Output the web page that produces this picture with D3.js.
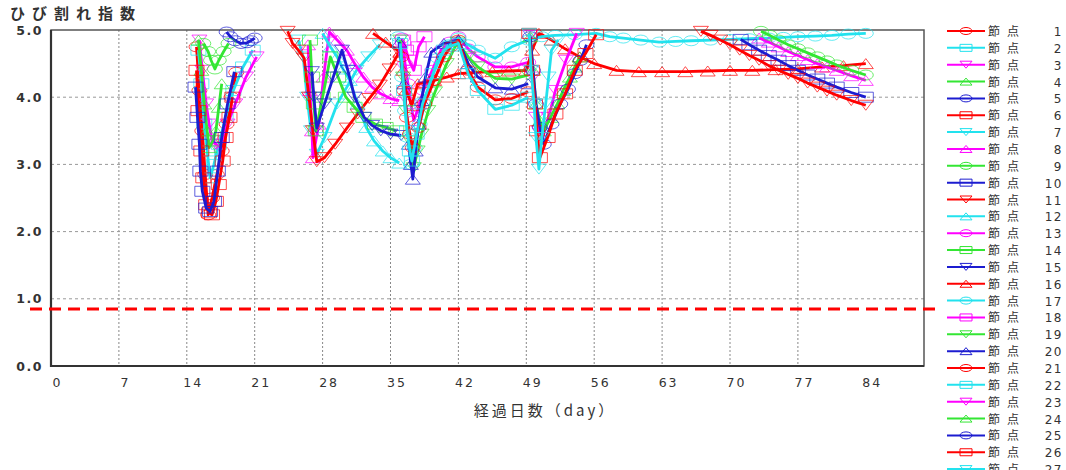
<!DOCTYPE html>
<html>
<head>
<meta charset="utf-8">
<script src="https://cdn.jsdelivr.net/npm/d3@7"></script>
<style>
  body { margin: 0; background: #fff; }
  text { font-family: "Noto Sans CJK JP", "DejaVu Sans", sans-serif; fill: #333; }
</style>
</head>
<body>
<svg id="chart" width="1066" height="470"></svg>
<script>
// ---- data: [day, crack index] per node ----
const xTicks = [0, 7, 14, 21, 28, 35, 42, 49, 56, 63, 70, 77, 84];
const xGrid = [7, 14, 21, 28, 35, 42, 49, 56, 63, 70, 77];
const yTicks = [0, 1, 2, 3, 4, 5];
const limitValue = 0.85;
const legendCount = 27;

const node01 = [[15.0,4.75],[15.3,4.1],[15.6,3.5],[15.9,2.85],[16.2,2.25],[16.6,2.5],[17.1,2.85],[17.6,3.2],[18.1,3.6],[18.6,4.0],[19.1,4.37]];
const node02 = [[15.2,4.7],[15.5,4.2],[15.8,3.6],[16.1,3.2],[16.4,2.8],[16.8,3.0],[17.3,3.3],[18.0,3.7],[18.8,4.1],[19.8,4.45],[20.8,4.7]];
const node03 = [[15.3,4.85],[15.6,4.4],[16.0,3.9],[16.3,3.6],[16.6,3.36],[17.0,3.3],[17.4,3.26],[18.2,3.6],[19.0,3.9],[20.1,4.3],[21.2,4.6]];
const node04 = [[15.2,4.85],[15.5,4.4],[15.8,3.9],[16.1,3.5],[16.3,3.25],[16.7,3.35],[17.0,3.5],[17.3,3.85],[17.6,4.2]];
const node05 = [[18.1,4.97],[18.5,4.9],[19.0,4.84],[19.6,4.8],[20.2,4.81],[20.6,4.84],[21.0,4.88]];
const node06 = [[15.0,4.4],[15.2,3.8],[15.5,3.2],[15.7,2.8],[16.0,2.4],[16.3,2.28],[16.6,2.25],[17.0,2.45],[17.3,2.7],[17.7,3.05],[18.0,3.4],[18.4,3.7],[18.7,4.0]];
const node07 = [[25.5,4.85],[26.0,4.6],[26.4,4.0],[26.8,3.5],[27.4,3.15],[28.2,3.4],[29.5,3.9],[30.5,4.15],[31.5,4.4],[32.7,4.6],[33.9,4.78]];
const node08 = [[26.5,4.78],[26.7,4.1],[26.9,3.5],[27.0,3.1],[27.6,3.6],[28.1,4.3],[28.7,4.97],[29.5,4.85],[30.5,4.7],[31.3,4.5],[32.2,4.3],[33.1,4.15],[34.0,4.05],[35.0,3.98],[35.9,3.95]];
const node09 = [[15.7,4.8],[16.2,4.68],[16.5,4.55],[16.9,4.42],[17.3,4.55],[17.8,4.68],[18.3,4.8]];
const node10 = [[14.9,4.15],[15.1,3.7],[15.3,3.3],[15.4,2.9],[15.6,2.6],[16.0,2.35],[16.4,2.3],[16.8,2.45],[17.2,2.9],[17.6,3.4],[18.2,3.9],[18.9,4.38]];
const node11 = [[24.4,4.98],[24.9,4.8],[25.5,4.7],[26.1,4.58],[26.6,4.0],[27.0,3.5],[27.4,3.04],[28.2,3.1],[29.3,3.3],[30.5,3.54],[31.6,3.75],[32.8,3.98],[33.9,4.18],[34.9,4.42],[35.9,4.67]];
const node12 = [[28.0,4.95],[28.8,4.75],[29.5,4.6],[30.1,4.42],[30.8,4.25],[31.6,3.9],[32.5,3.55],[33.3,3.35],[34.2,3.2],[35.0,3.1],[35.9,3.02]];
const node13 = [[36.2,4.88],[36.5,4.5],[36.8,4.2],[37.1,3.9],[37.4,3.65],[37.9,3.85],[38.4,4.1],[39.3,4.4],[40.2,4.7],[41.1,4.82],[42.0,4.9],[43.0,4.72],[44.0,4.6],[45.8,4.45],[47.5,4.45],[49.2,4.52]];
const node14 = [[26.7,4.85],[26.9,4.3],[27.1,3.9],[27.3,3.5],[28.0,4.0],[28.8,4.6],[29.6,4.3],[30.4,4.0],[31.3,3.85],[32.2,3.7],[33.4,3.6],[34.5,3.55],[35.6,3.5]];
const node15 = [[26.9,4.38],[27.1,4.0],[27.4,3.54],[28.2,3.9],[29.1,4.3],[30.0,4.7],[30.6,4.4],[31.3,4.0],[32.3,3.7],[33.1,3.58],[34.0,3.5],[35.0,3.45],[36.1,3.43]];
const node16 = [[33.2,4.95],[34.5,4.82],[36.0,4.67],[36.3,4.4],[36.6,4.1],[37.2,3.88],[37.8,4.2],[38.6,4.22],[39.5,4.25],[40.8,4.3],[42.0,4.35],[43.8,4.37],[45.5,4.38],[47.2,4.39],[49.0,4.4],[49.6,4.7],[50.3,4.95],[51.6,4.85],[53.0,4.72],[54.5,4.6],[56.0,4.5],[58.3,4.4],[60.6,4.38],[63.0,4.38],[65.4,4.38],[67.7,4.39],[70.0,4.4],[72.3,4.4],[74.7,4.41],[77.0,4.42],[79.5,4.45],[81.7,4.47],[84.0,4.5]];
const node17 = [[35.8,4.9],[36.2,4.3],[36.5,3.8],[36.8,3.4],[37.1,3.0],[37.5,3.25],[38.0,3.6],[38.9,4.1],[39.9,4.58],[41.0,4.78],[42.0,4.88],[43.0,4.78],[44.0,4.7],[45.8,4.58],[47.5,4.75],[49.2,4.85],[50.6,4.9],[52.0,4.92],[54.0,4.93],[56.2,4.95],[57.6,4.9],[59.0,4.88],[60.8,4.85],[62.7,4.82],[64.4,4.83],[66.0,4.84],[68.0,4.85],[70.0,4.86],[72.0,4.87],[74.0,4.88],[75.5,4.89],[77.0,4.9],[78.8,4.91],[80.5,4.92],[82.2,4.94],[84.0,4.95]];
const node18 = [[36.3,4.85],[36.6,4.7],[36.9,4.55],[37.4,4.4],[37.9,4.75],[38.5,4.9]];
const node19 = [[36.0,4.85],[36.3,4.3],[36.6,3.8],[37.0,3.35],[37.4,2.95],[37.8,3.2],[38.2,3.45],[38.9,3.8],[39.6,4.08],[40.8,4.5],[41.9,4.82],[43.0,4.6],[44.0,4.45],[45.8,4.28],[47.5,4.27],[49.2,4.33]];
const node20 = [[35.9,4.82],[36.4,4.2],[36.9,3.3],[37.1,3.0],[37.3,2.78],[37.6,3.2],[37.9,3.6],[38.2,3.95],[38.6,4.3],[39.2,4.67],[40.5,4.8],[42.0,4.85],[43.0,4.5],[44.0,4.3],[45.8,4.14],[47.5,4.12],[49.2,4.2]];
const node21 = [[36.1,4.6],[36.4,4.1],[36.7,3.7],[37.0,3.45],[37.3,3.25],[37.9,3.55],[38.5,3.9],[39.5,4.25],[40.5,4.6],[41.2,4.75],[42.0,4.85],[43.0,4.4],[44.0,4.15],[45.8,3.96],[47.5,3.98],[49.2,4.08]];
const node22 = [[36.0,4.8],[36.4,4.1],[36.7,3.5],[37.0,3.2],[37.2,3.05],[37.7,3.45],[38.3,3.9],[39.4,4.35],[40.5,4.7],[41.2,4.76],[42.0,4.8],[43.0,4.35],[44.0,4.1],[45.8,3.82],[47.5,3.88],[49.2,4.0]];
const node23 = [[49.4,4.92],[49.7,4.3],[50.0,3.7],[50.3,3.5],[50.7,3.4],[51.3,3.7],[52.0,4.1],[53.1,4.55],[54.2,4.95]];
const node24 = [[49.4,4.9],[49.7,4.4],[50.0,3.9],[50.4,3.65],[50.8,3.5],[51.5,3.7],[52.2,3.9],[52.8,4.1],[53.5,4.3],[54.0,4.45],[54.5,4.6]];
const node25 = [[49.4,4.9],[49.7,4.4],[50.0,3.9],[50.4,3.55],[50.8,3.3],[51.6,3.6],[52.5,3.9],[53.3,4.12],[54.0,4.35],[54.6,4.55],[55.2,4.78]];
const node26 = [[49.3,4.95],[49.6,4.4],[49.9,3.9],[50.1,3.5],[50.4,3.1],[51.2,3.4],[52.0,3.75],[53.0,4.05],[54.0,4.4],[55.1,4.65],[56.2,4.93]];
const node27 = [[49.3,4.95],[49.5,4.4],[49.8,3.9],[50.0,3.4],[50.3,2.93],[50.6,3.4],[51.0,3.9],[51.3,4.3],[51.6,4.7],[52.3,4.85]];
const node28 = [[73.0,4.88],[74.0,4.82],[75.0,4.75],[76.0,4.68],[77.0,4.62],[78.0,4.56],[79.0,4.5],[80.0,4.45],[81.0,4.4],[82.5,4.32],[84.0,4.25]];
const node29 = [[73.2,4.98],[74.1,4.92],[75.0,4.85],[76.0,4.78],[77.0,4.72],[78.0,4.66],[79.0,4.6],[80.0,4.54],[81.0,4.48],[82.5,4.4],[84.0,4.33]];
const node30 = [[71.1,4.86],[72.0,4.78],[73.0,4.7],[74.0,4.62],[75.0,4.55],[76.0,4.47],[77.0,4.4],[78.0,4.33],[79.0,4.27],[80.0,4.21],[81.0,4.15],[82.5,4.07],[84.0,4.0]];
const node31 = [[67.0,4.98],[68.0,4.92],[69.0,4.85],[70.0,4.78],[71.0,4.7],[72.0,4.62],[73.0,4.55],[74.0,4.47],[75.0,4.4],[76.0,4.34],[77.0,4.28],[78.0,4.21],[79.0,4.15],[80.0,4.09],[81.0,4.03],[82.5,3.95],[84.0,3.88]];

const series = [node01,node02,node03,node04,node05,node06,node07,node08,node09,node10,
                node11,node12,node13,node14,node15,node16,node17,node18,node19,node20,
                node21,node22,node23,node24,node25,node26,node27,node28,node29,node30,node31];

const nodeColors = ["#ff0000", "#22e2ee", "#ff00ff", "#33e633", "#1c1cd0"];
const markerTypes = ["circle", "square", "triDown", "triUp"];

// ---- layout ----
const svg = d3.select("#chart");
const plot = {left: 51, right: 924, top: 30, bottom: 366};

const x = d3.scaleLinear().domain([0, 90]).range([plot.left, plot.right]);
const y = d3.scaleLinear().domain([0, 5]).range([plot.bottom, plot.top]);

function markerPath(type, w, h){
    if(type == "circle")
        return `M${-w/2},0A${w/2},${h/2} 0 1,0 ${w/2},0A${w/2},${h/2} 0 1,0 ${-w/2},0Z`;
    if(type == "square")
        return `M${-w/2},${-h/2}H${w/2}V${h/2}H${-w/2}Z`;
    if(type == "triDown")
        return `M${-w/2},${-h/2}H${w/2}L0,${h/2}Z`;
    return `M${-w/2},${h/2}H${w/2}L0,${-h/2}Z`;
}

// grid
svg.append("g").selectAll("line")
    .data(xGrid).enter().append("line")
    .attr("x1", d => x(d)).attr("x2", d => x(d))
    .attr("y1", plot.top).attr("y2", plot.bottom)
    .attr("stroke", "#888").attr("stroke-width", 1)
    .attr("stroke-dasharray", "2,2");

svg.append("g").selectAll("line")
    .data([1, 2, 3, 4]).enter().append("line")
    .attr("x1", plot.left).attr("x2", plot.right)
    .attr("y1", d => y(d)).attr("y2", d => y(d))
    .attr("stroke", "#999").attr("stroke-width", 1)
    .attr("stroke-dasharray", "3,3");

// frame
svg.append("rect")
    .attr("x", plot.left).attr("y", plot.top)
    .attr("width", plot.right - plot.left).attr("height", plot.bottom - plot.top)
    .attr("fill", "none").attr("stroke", "#555").attr("stroke-width", 1.5);
svg.append("path")
    .attr("d", `M${plot.left},${plot.top}V${plot.bottom}H${plot.right}`)
    .attr("fill", "none").attr("stroke", "#333").attr("stroke-width", 2.2);

// axes (labels only)
const xAxis = svg.append("g")
    .attr("transform", `translate(0,${plot.bottom})`)
    .call(d3.axisBottom(x).tickValues(xTicks).tickSize(0).tickPadding(12));
xAxis.select(".domain").remove();
xAxis.selectAll("text")
    .attr("dx", 6)
    .style("font-family", "'DejaVu Sans', sans-serif")
    .style("font-size", "12.5px")
    .style("letter-spacing", "2px")
    .style("fill", "#333");

const yAxis = svg.append("g")
    .attr("transform", `translate(${plot.left},0)`)
    .call(d3.axisLeft(y).tickValues(yTicks).tickSize(0).tickPadding(8).tickFormat(d3.format(".1f")));
yAxis.select(".domain").remove();
yAxis.selectAll("text")
    .style("font-family", "'DejaVu Sans', sans-serif")
    .style("font-size", "12.5px")
    .style("font-weight", "bold")
    .style("letter-spacing", "1.5px")
    .style("fill", "#333");

// titles
svg.append("text")
    .attr("x", 10).attr("y", 19)
    .style("font-size", "15px")
    .style("font-weight", "bold")
    .style("letter-spacing", "7px")
    .text("ひび割れ指数");

svg.append("text")
    .attr("x", 545).attr("y", 416)
    .attr("text-anchor", "middle")
    .style("font-size", "15px")
    .style("letter-spacing", "3px")
    .text("経過日数（day）");

// series
const line = d3.line().x(d => x(d[0])).y(d => y(d[1]));

series.forEach(function(pts, i){
    let color = nodeColors[i % 5];
    let mk = markerTypes[i % 4];
    let g = svg.append("g");

    g.selectAll("path.mk")
        .data(pts).enter().append("path")
        .attr("class", "mk")
        .attr("d", markerPath(mk, 15, 10))
        .attr("transform", d => `translate(${x(d[0])},${y(d[1])})`)
        .attr("fill", "none")
        .attr("stroke", color)
        .attr("stroke-width", 1)
        .attr("stroke-opacity", 0.7);

    g.append("path")
        .datum(pts)
        .attr("d", line)
        .attr("fill", "none")
        .attr("stroke", color)
        .attr("stroke-width", 2.8)
        .attr("stroke-linejoin", "round");
});

// limit line
svg.append("line")
    .attr("x1", 30).attr("x2", 940)
    .attr("y1", y(limitValue)).attr("y2", y(limitValue))
    .attr("stroke", "#ff0000").attr("stroke-width", 3)
    .attr("stroke-dasharray", "12,7");

// legend (the list runs past the bottom edge, as in the original)
const legend = svg.append("g").selectAll("g")
    .data(series.slice(0, legendCount)).enter().append("g")
    .attr("transform", (d, i) => `translate(0,${31 + i * 16.85})`);

legend.append("line")
    .attr("x1", 947).attr("x2", 985)
    .attr("stroke", (d, i) => nodeColors[i % 5])
    .attr("stroke-width", 2);

legend.append("path")
    .attr("d", (d, i) => markerPath(markerTypes[i % 4], 12, 7))
    .attr("transform", "translate(966,0)")
    .attr("fill", "none")
    .attr("stroke", (d, i) => nodeColors[i % 5])
    .attr("stroke-width", 1);

legend.append("text")
    .attr("x", 988).attr("y", 5)
    .style("font-size", "12px")
    .style("letter-spacing", "7px")
    .text("節点");

legend.append("text")
    .attr("x", 1063).attr("y", 5)
    .attr("text-anchor", "end")
    .style("font-family", "'DejaVu Sans', sans-serif")
    .style("font-size", "12px")
    .style("letter-spacing", "1.5px")
    .text((d, i) => i + 1);
</script>
</body>
</html>
